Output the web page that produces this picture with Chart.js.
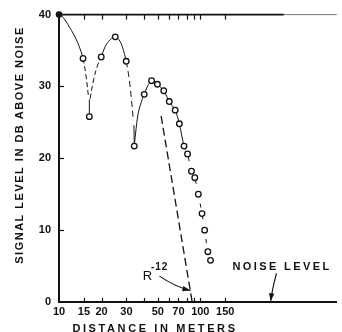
<!DOCTYPE html>
<html>
<head>
<meta charset="utf-8">
<script src="https://cdn.jsdelivr.net/npm/chart.js@4/dist/chart.umd.min.js"></script>
<style>
  html, body { margin: 0; padding: 0; background: #fff; }
  #c { display: block; width: 342px; height: 332px; }
</style>
</head>
<body>
<canvas id="c" width="342" height="332"></canvas>
<script>
// Measured signal level (dB above noise) against distance (m)
const distanceM = [14.8, 16.4, 19.9, 25, 29.9, 34.1, 40.1, 45.2, 49.7, 55.1, 60.3, 66.4, 71.1, 76.7, 81.2, 86.6, 91.4, 96.8, 102.8, 107.3, 113.1, 118.1];
const levelDb   = [33.9, 25.8, 34.1, 36.9, 33.5, 21.7, 28.9, 30.8, 30.3, 29.4, 27.9, 26.7, 24.8, 21.7, 20.6, 18.2, 17.3, 15.0, 12.3, 10.0, 7.0, 5.8];

// Reference level at the start of the run
const startPoint = [[10, 40]];

// Interference curve, drawn piece by piece (distance, dB)
const lobe1     = [[10, 40], [10.7, 39.6], [11.9, 38.2], [13.2, 36.6], [14.3, 34.9], [14.8, 33.9]];
const null1Fall = [[14.8, 33.9], [15.5, 31.6], [16.2, 28.4]];
const null1Stem = [[16.4, 28.2], [16.4, 25.8]];
const null1Rise = [[16.6, 28.3], [17.6, 31.0], [18.8, 33.0], [19.9, 34.1]];
const lobe2     = [[19.9, 34.1], [21.3, 35.6], [23, 36.5], [25, 36.9], [27, 36.3], [28.6, 35.0], [29.9, 33.5]];
const null2Fall = [[29.9, 33.5], [31.2, 31.4], [32.4, 28.6], [33.6, 25.2]];
const null2Stem = [[33.9, 24.6], [34.1, 21.7]];
const lobe3     = [[34.1, 21.7], [34.8, 23.4], [36.3, 26.2], [38.2, 27.8], [40.1, 28.9], [42.5, 30.1], [45.2, 30.8]];

// R^-12 fall-off line
const r12Line = [[52.8, 25.9], [87.6, 0]];

// Axis ticks
const xTickValues = [10, 15, 20, 30, 40, 50, 60, 70, 80, 90, 100, 150];
const xTickLabels = [10, 15, 20, 30, 50, 70, 100, 150];
const yTickValues = [0, 10, 20, 30, 40];

const INK = '#111';
const FONT = "'Liberation Sans', Arial, sans-serif";

const toXY = arr => arr.map(([x, y]) => ({ x, y }));
const measured = distanceM.map((x, i) => ({ x, y: levelDb[i] }));
const trendStart = distanceM.indexOf(45.2);
const dashFrom = 76.7;

function curve(points, dash) {
  return {
    data: toXY(points),
    showLine: true,
    borderColor: INK,
    borderWidth: 1,
    borderDash: dash || [],
    pointRadius: 0,
    tension: 0.4,
    clip: false,
    order: 5
  };
}

function drawArrow(ctx, p0, c, p1, headLen, headW) {
  ctx.beginPath();
  ctx.moveTo(p0.x, p0.y);
  ctx.quadraticCurveTo(c.x, c.y, p1.x, p1.y);
  ctx.stroke();
  const a = Math.atan2(p1.y - c.y, p1.x - c.x);
  const bx = p1.x - headLen * Math.cos(a), by = p1.y - headLen * Math.sin(a);
  ctx.beginPath();
  ctx.moveTo(p1.x, p1.y);
  ctx.lineTo(bx + headW * Math.sin(a), by - headW * Math.cos(a));
  ctx.lineTo(bx - headW * Math.sin(a), by + headW * Math.cos(a));
  ctx.closePath();
  ctx.fill();
}

const decorations = {
  id: 'decorations',
  afterDraw(chart) {
    const { ctx, chartArea: area, scales: { x, y } } = chart;
    const P = (vx, vy) => ({ x: x.getPixelForValue(vx), y: y.getPixelForValue(vy) });
    ctx.save();
    ctx.strokeStyle = INK;
    ctx.fillStyle = INK;
    ctx.lineCap = 'butt';

    // top frame line
    const fade = x.getPixelForValue(390);
    ctx.lineWidth = 1.6;
    ctx.beginPath(); ctx.moveTo(area.left, area.top); ctx.lineTo(fade, area.top); ctx.stroke();
    ctx.strokeStyle = '#777';
    ctx.lineWidth = 1;
    ctx.beginPath(); ctx.moveTo(fade, area.top); ctx.lineTo(area.right, area.top); ctx.stroke();
    ctx.strokeStyle = INK;

    // inward tick marks, bottom and top
    ctx.lineWidth = 1.2;
    x.ticks.forEach(t => {
      if (t.value <= 10) return;
      const px = Math.round(x.getPixelForValue(t.value)) + 0.5;
      ctx.beginPath(); ctx.moveTo(px, area.bottom); ctx.lineTo(px, area.bottom - 4); ctx.stroke();
      ctx.beginPath(); ctx.moveTo(px, area.top); ctx.lineTo(px, area.top + 5); ctx.stroke();
    });
    y.ticks.forEach(t => {
      if (t.value <= 0 || t.value >= 40) return;
      const py = Math.round(y.getPixelForValue(t.value)) + 0.5;
      ctx.beginPath(); ctx.moveTo(area.left, py); ctx.lineTo(area.left + 5, py); ctx.stroke();
    });

    // R^-12 label with its arrow
    ctx.textBaseline = 'alphabetic';
    ctx.textAlign = 'left';
    let p = P(39.1, 3.1);
    ctx.font = `13px ${FONT}`;
    ctx.fillText('R', p.x, p.y);
    p = P(44.7, 4.5);
    ctx.font = `bold 10px ${FONT}`;
    ctx.letterSpacing = '1px';
    ctx.fillText('-12', p.x, p.y);
    ctx.lineWidth = 1.1;
    drawArrow(ctx, P(51.4, 3.6), P(66.7, 2.1), P(85.2, 1.6), 8, 2.6);

    // noise level label with its arrow
    p = P(168.7, 4.5);
    ctx.font = `bold 11px ${FONT}`;
    ctx.letterSpacing = '2.4px';
    ctx.fillText('NOISE LEVEL', p.x, p.y);
    drawArrow(ctx, P(346, 4.0), P(322, 1.7), P(314.8, 0.1), 8, 2.6);

    // axis titles
    ctx.font = `bold 11px ${FONT}`;
    ctx.textAlign = 'center';
    ctx.letterSpacing = '2.6px';
    ctx.fillText('DISTANCE IN METERS', 155, 331.5);
    ctx.letterSpacing = '1.5px';
    ctx.translate(23, 145);
    ctx.rotate(-Math.PI / 2);
    ctx.fillText('SIGNAL LEVEL IN DB ABOVE NOISE', 0, 0);
    ctx.restore();
  }
};

new Chart(document.getElementById('c'), {
  type: 'scatter',
  data: {
    datasets: [
      {
        data: measured,
        pointRadius: 2.8,
        pointBorderWidth: 1.3,
        pointBackgroundColor: '#fff',
        pointBorderColor: INK,
        showLine: false,
        clip: false,
        order: 1
      },
      {
        data: toXY(startPoint),
        pointRadius: 3.3,
        pointBorderWidth: 0,
        pointBackgroundColor: INK,
        showLine: false,
        clip: false,
        order: 0
      },
      curve(lobe1),
      curve(null1Fall, [5, 3]),
      curve(null1Stem),
      curve(null1Rise, [5, 3]),
      curve(lobe2),
      curve(null2Fall, [6, 4]),
      curve(null2Stem),
      curve(lobe3),
      {
        data: measured.slice(trendStart),
        showLine: true,
        borderColor: INK,
        borderWidth: 1,
        pointRadius: 0,
        tension: 0.3,
        clip: false,
        order: 5,
        segment: {
          borderDash: c => (c.p0.parsed.x >= dashFrom ? [4, 8] : undefined)
        }
      },
      {
        data: toXY(r12Line),
        showLine: true,
        borderColor: INK,
        borderWidth: 1.3,
        borderDash: [8, 4],
        pointRadius: 0,
        clip: false,
        order: 5
      }
    ]
  },
  options: {
    responsive: false,
    animation: false,
    layout: { padding: { top: 13, right: 0, bottom: 0, left: 0 } },
    plugins: { legend: { display: false }, tooltip: { enabled: false } },
    scales: {
      x: {
        type: 'logarithmic',
        position: 'bottom',
        min: 10,
        max: 923,
        afterBuildTicks: s => { s.ticks = xTickValues.map(v => ({ value: v })); },
        afterFit: s => { s.height = 30; },
        grid: { display: false, drawTicks: false },
        border: { display: true, width: 2, color: INK },
        ticks: {
          autoSkip: false,
          maxRotation: 0,
          padding: 3,
          color: INK,
          font: { family: FONT, size: 11, weight: 'bold' },
          callback: v => (xTickLabels.includes(v) ? String(v) : '')
        }
      },
      y: {
        min: 0,
        max: 40,
        afterBuildTicks: s => { s.ticks = yTickValues.map(v => ({ value: v })); },
        afterFit: s => { s.width = 59; },
        grid: { display: false, drawTicks: false },
        border: { display: true, width: 2, color: INK },
        ticks: {
          padding: 8,
          color: INK,
          font: { family: FONT, size: 11, weight: 'bold' }
        }
      }
    }
  },
  plugins: [decorations]
});
</script>
</body>
</html>
